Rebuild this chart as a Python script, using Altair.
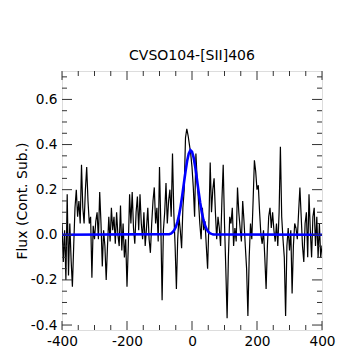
import altair as alt
import pandas as pd

# ---- data ----
velocity = list(range(-400, 404, 4))
flux = [
    0.05, -0.12, 0.02, -0.20, 0.18, -0.18, 0.05, -0.11, -0.23, -0.05,
    0.12, 0.20, 0.08, 0.15, 0.05, 0.31, 0.12, 0.05, 0.20, 0.30,
    0.15, 0.05, 0.08, -0.19, 0.04, -0.02, 0.06, 0.10, -0.02, 0.19,
    0.05, -0.14, 0.02, -0.05, -0.20, -0.05, 0.08, -0.03, 0.12, 0.02,
    0.08, -0.04, 0.10, 0.00, -0.05, 0.13, -0.07, 0.05, -0.10, -0.02,
    -0.23, -0.05, 0.18, 0.05, 0.19, 0.03, -0.04, 0.10, 0.17, 0.02,
    0.18, 0.05, -0.02, 0.10, -0.05, 0.03, 0.12, -0.02, -0.08, 0.05,
    0.15, 0.21, 0.05, 0.12, -0.03, 0.30, 0.05, -0.29, 0.02, 0.10,
    0.23, 0.05, 0.15, 0.20, 0.08, 0.36, 0.10, -0.05, -0.24, -0.02,
    0.08, 0.02, -0.06, 0.12, 0.20, 0.43, 0.47, 0.44, 0.40, 0.36,
    0.30, 0.21, 0.08, 0.36, 0.24, 0.15, 0.05, -0.02, 0.12, 0.02,
    0.06, -0.05, -0.15, 0.05, 0.32, 0.10, 0.20, 0.25, 0.10, -0.02,
    0.08, 0.03, -0.05, 0.15, 0.31, 0.05, -0.15, -0.37, -0.10, 0.08,
    0.05, 0.12, -0.05, 0.03, -0.03, 0.21, 0.10, 0.03, -0.03, 0.15,
    0.06, -0.05, -0.15, -0.36, -0.10, 0.05, -0.02, 0.15, 0.33, 0.28,
    0.20, 0.22, 0.10, 0.00, -0.04, 0.02, -0.10, -0.24, -0.05, 0.08,
    0.12, 0.03, 0.10, 0.02, -0.03, 0.05, -0.05, 0.10, 0.39, 0.08,
    -0.02, -0.10, -0.36, -0.05, 0.03, -0.07, 0.02, -0.26, -0.05, 0.05,
    0.03, -0.02, 0.10, 0.21, 0.08, -0.05, -0.12, 0.05, 0.10, -0.10,
    0.18, 0.02, -0.10, 0.08, 0.12, -0.05, 0.08, -0.10, 0.05, -0.10,
    -0.05,
]
fit_velocity = [-400, -70, -65, -60, -55, -50, -45, -40, -35, -30, -25, -20, -15,
                -10, -5, 0, 5, 10, 15, 20, 25, 30, 35, 40, 45, 50, 55, 60, 65, 400]
fit_flux = [0.0, 0.003, 0.005, 0.011, 0.020, 0.034, 0.056, 0.086, 0.126, 0.174,
            0.228, 0.280, 0.327, 0.360, 0.375, 0.368, 0.342, 0.300, 0.249, 0.195,
            0.144, 0.101, 0.067, 0.042, 0.025, 0.014, 0.007, 0.004, 0.002, 0.0]

x_major = [-400, -200, 0, 200, 400]
x_minor = [-350, -300, -250, -150, -100, -50, 50, 100, 150, 250, 300, 350]
y_major = [-0.4, -0.2, 0.0, 0.2, 0.4, 0.6]
y_minor = [-0.35, -0.3, -0.25, -0.15, -0.1, -0.05, 0.05, 0.1, 0.15, 0.25,
           0.3, 0.35, 0.45, 0.5, 0.55, 0.65, 0.7]

title_text = "CVSO104-[SII]406"
y_title = "Flux (Cont. Sub.)"
x_title = "v (km s⁻¹)"

W, H = 260, 259
FONT = "DejaVu Sans"
TICKC = "#333333"

spec_df = pd.DataFrame({"v": velocity, "f": flux})
fit_df = pd.DataFrame({"v": fit_velocity, "f": fit_flux})

xscale = alt.Scale(domain=[-400, 400], nice=False, zero=False)
yscale = alt.Scale(domain=[-0.422, 0.726], nice=False, zero=False)

xaxis = alt.Axis(values=x_major, ticks=False, domain=False, grid=False,
                 labelExpr="replace(format(datum.value, 'd'), '\u2212', '-')",
                 labelFont=FONT, labelFontSize=13.7, labelColor="black",
                 labelPadding=4, title=x_title, titleFont=FONT,
                 titleFontSize=14, titleFontWeight="normal", titleColor="black",
                 titlePadding=9, labelFlush=False)
yaxis = alt.Axis(values=y_major, ticks=False, domain=False, grid=False,
                 labelExpr="replace(format(datum.value, '.1f'), '\u2212', '-')",
                 labelFont=FONT, labelFontSize=13.7,
                 labelColor="black", labelPadding=5, title=y_title,
                 titleFont=FONT, titleFontSize=14, titleFontWeight="normal",
                 titleColor="black", titlePadding=1, labelFlush=False)

spectrum = alt.Chart(spec_df).mark_line(color="black", strokeWidth=1.2, clip=True).encode(
    x=alt.X("v:Q", scale=xscale, axis=xaxis),
    y=alt.Y("f:Q", scale=yscale, axis=yaxis),
)
fit = alt.Chart(fit_df).mark_line(color="#0000ff", strokeWidth=2.6, clip=True).encode(
    x=alt.X("v:Q", scale=xscale),
    y=alt.Y("f:Q", scale=yscale),
)

def xticks(vals, length):
    d = pd.DataFrame({"v": vals})
    bottom = alt.Chart(d).mark_rule(color=TICKC, strokeWidth=1).encode(
        x=alt.X("v:Q", scale=xscale), y=alt.value(H), y2=alt.value(H - length))
    top = alt.Chart(d).mark_rule(color=TICKC, strokeWidth=1).encode(
        x=alt.X("v:Q", scale=xscale), y=alt.value(0), y2=alt.value(length))
    return [bottom, top]

def yticks(vals, length):
    d = pd.DataFrame({"f": vals})
    left = alt.Chart(d).mark_rule(color=TICKC, strokeWidth=1).encode(
        y=alt.Y("f:Q", scale=yscale), x=alt.value(0), x2=alt.value(length))
    right = alt.Chart(d).mark_rule(color=TICKC, strokeWidth=1).encode(
        y=alt.Y("f:Q", scale=yscale), x=alt.value(W), x2=alt.value(W - length))
    return [left, right]

layers = [spectrum, fit] + xticks(x_major, 9) + xticks(x_minor, 5) + yticks(y_major, 10) + yticks(y_minor, 5)

chart = alt.layer(*layers).properties(
    width=W, height=H,
    title=alt.TitleParams(title_text, font=FONT, fontSize=14, fontWeight="normal",
                          color="black", offset=8, anchor="middle"),
    autosize=alt.AutoSizeParams(type="none"),
    padding={"left": 54, "top": 63, "right": 29, "bottom": 22},
).configure_view(stroke=TICKC, strokeWidth=1.2).configure(background="white")

chart.save("out.html", embed_options={"renderer": "svg", "actions": False})
